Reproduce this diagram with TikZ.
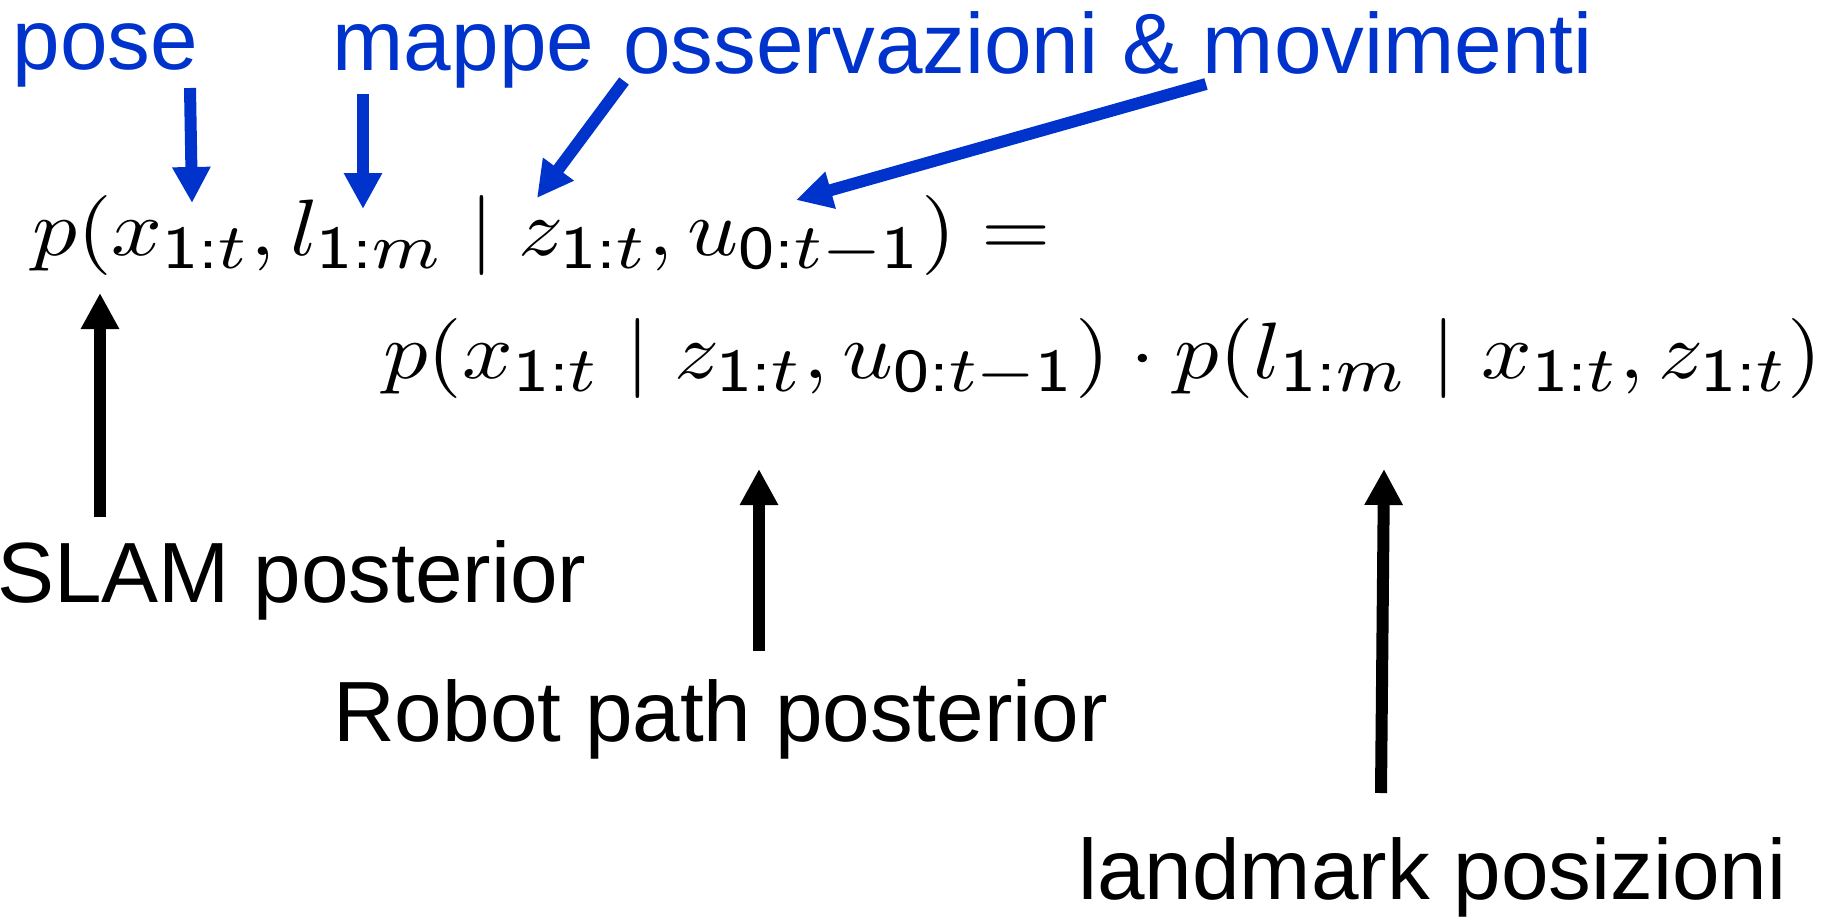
\documentclass[tikz,border=0pt]{standalone}
\usepackage{amsmath}
\usepackage{graphicx}
\usepackage{fontspec}
\newfontfamily\helv{Liberation Sans}
\usetikzlibrary{arrows.meta}
\definecolor{slblue}{RGB}{0,51,204}
\DeclareMathSizes{10}{10}{7.6}{5.5}
\begin{document}
\begin{tikzpicture}[x=1pt,y=-1pt,
  lbl/.style={inner sep=0pt, anchor=base west, font=\helv\fontsize{85.5}{100}\selectfont},
  bluelbl/.style={lbl, text=slblue},
  eqn/.style={inner sep=0pt, anchor=base west},
  blkarrow/.style={line width=12pt, -{Triangle[length=36pt,width=36pt]}},
  bluarrow/.style={blkarrow, draw=slblue}]
\useasboundingbox (0,0) rectangle (1839,919);
% labels
\node[bluelbl] (pose) at (12.5,69.5) {pose};
\node[bluelbl] (mappe) at (332.5,70) {mappe};
\node[bluelbl] (oss) at (623,73) {osservazioni \& movimenti};
\node[lbl] (slam) at (-3,602) {SLAM posterior};
\node[lbl] (robot) at (333,741) {Robot path posterior};
\node[lbl] (landmark) at (1078,899) {landmark posizioni};
% formula
\node[eqn] (eq1) at (32,255) {\resizebox{1018pt}{60pt}{$p(x_{\textsf{1:}t}, l_{\textsf{1:}m} \mid z_{\textsf{1:}t}, u_{\textsf{0:}t-\textsf{1}}) \mathrel{\textsf{=}}$}};
\node[eqn] (eq2) at (383,378) {\resizebox{1439pt}{60pt}{$p(x_{\textsf{1:}t} \mid z_{\textsf{1:}t}, u_{\textsf{0:}t-\textsf{1}}) \cdot p(l_{\textsf{1:}m} \mid x_{\textsf{1:}t}, z_{\textsf{1:}t})$}};
% arrow ends
\coordinate (poseT) at (190,88);
\coordinate (poseH) at (192,203);
\coordinate (mappeT) at (363,94);
\coordinate (mappeH) at (363,209);
\coordinate (ossT) at (624,81);
\coordinate (ossH) at (537,198);
\coordinate (movT) at (1206,84);
\coordinate (movH) at (796,200);
\coordinate (slamT) at (100,517);
\coordinate (slamH) at (100,293);
\coordinate (robotT) at (759,651);
\coordinate (robotH) at (759,469);
\coordinate (landT) at (1381,793);
\coordinate (landH) at (1384,469);
% arrows
\draw[bluarrow] (poseT) -- (poseH);
\draw[bluarrow] (mappeT) -- (mappeH);
\draw[bluarrow] (ossT) -- (ossH);
\draw[bluarrow] (movT) -- (movH);
\draw[blkarrow] (slamT) -- (slamH);
\draw[blkarrow] (robotT) -- (robotH);
\draw[blkarrow] (landT) -- (landH);
\end{tikzpicture}
\end{document}
